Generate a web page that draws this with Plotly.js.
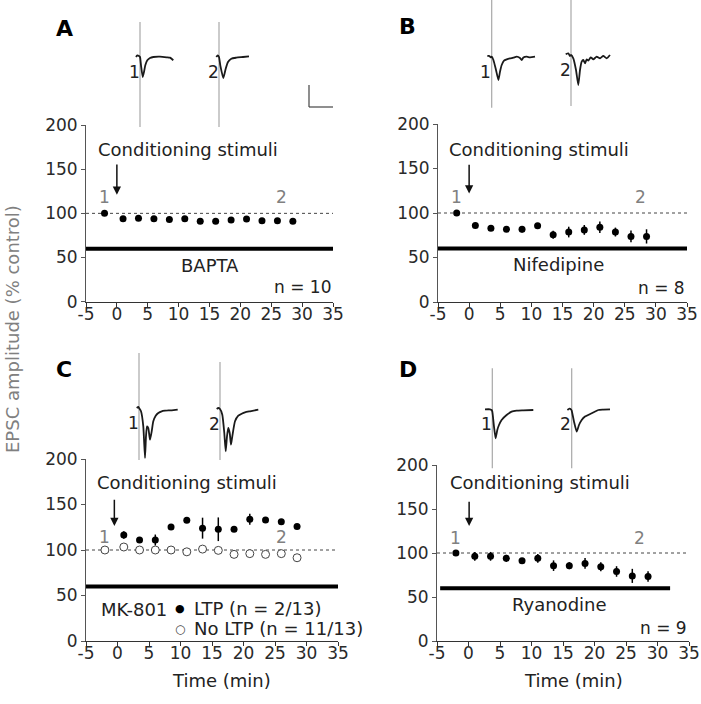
<!DOCTYPE html>
<html><head><meta charset="utf-8">
<script src="https://cdn.plot.ly/plotly-3.0.1.min.js"></script>
<style>html,body{margin:0;padding:0;background:#fff;}#chart{width:701px;height:704px;}</style>
</head><body><div id="chart"></div>
<script>
// ---------- data ----------
const timeMin = [-2, 1, 3.5, 6, 8.5, 11, 13.5, 16, 18.5, 21, 23.5, 26, 28.5];
const timeLTP = [1, 3.5, 6, 8.5, 11, 13.5, 16, 18.5, 21, 23.5, 26, 28.5];

const baptaAmp = [100, 94, 94.5, 94, 93, 94, 91, 91, 92.5, 93.5, 91.5, 91.5, 91];
const baptaErr = [0, 1.5, 1.5, 1.5, 1.5, 1.5, 2, 2, 1.5, 1.5, 1.5, 1.5, 1.5];
const nifeAmp = [100, 86, 83, 81.7, 81.7, 85.7, 75.6, 78.6, 81, 84, 78.6, 73.7, 73.7];
const nifeErr = [0, 2, 2, 2.5, 3.5, 3, 4.5, 6, 5.5, 6.5, 5, 6.5, 8];
const mkLTPAmp = [116.5, 111, 111, 125.4, 132.7, 124, 122.8, 122.8, 133.8, 133, 131, 125.7];
const mkLTPErr = [4, 2, 6, 2, 2, 11.5, 13, 2, 6, 2, 2, 2];
const mkNoLTPAmp = [100, 103.3, 100, 100, 100, 98, 101, 99.6, 95.2, 96, 95.2, 96, 91.5];
const mkNoLTPErr = [0, 1, 1, 1, 1, 1, 1, 1, 1, 1, 1, 1, 1];
const ryanAmp = [100, 96.2, 96.2, 93.9, 91.3, 93.9, 85.6, 85.6, 88.2, 84.4, 79, 74, 73.4];
const ryanErr = [0, 5, 5, 4, 2, 5, 6, 4, 6, 5, 6, 8, 6];

const controlLevel = [100, 100];
const controlSpan = [-5, 35];
const drugLevel = [60, 60];
const drugSpanA = [-5, 35];
const drugSpanB = [-5, 35];
const drugSpanC = [-5, 35];
const drugSpanD = [-4.5, 32];

const xTickVals = [-5, 0, 5, 10, 15, 20, 25, 30, 35];
const xTickText = ['-5', '0', '5', '10', '15', '20', '25', '30', '35'];
const yTickVals = [0, 50, 100, 150, 200];
const yTickText = ['0', '50', '100', '150', '200'];

// example EPSC traces (time rel. to stimulus, current; arbitrary units)
const wA1t = [-4, -2.7, -1, 0, 1, 2.7, 4, 5.3, 7.3, 10, 13.3, 20, 26.7, 30, 33.3];
const wA1v = [0, 1.7, 1, 0, -8.3, -20, -15, -8.3, -3.3, -1, 0, 0.3, -0.3, -0.7, -3.3];
const wA2t = [-2.7, -1.3, 0, 1.3, 4.3, 6.7, 9, 12.3, 17.3, 24, 30];
const wA2v = [0, 1.7, 0, -8.3, -21, -11.7, -5, -1.7, -0.7, 0, 0.7];
const wB1t = [-4.3, -2.3, -1, 0, 1.7, 4.3, 6.7, 8.3, 10, 12.3, 15, 18.3, 21.7, 25, 28.3, 30, 31.7, 35, 38.3, 43.3];
const wB1v = [0.7, 0.7, -0.7, 0, -3.3, -13.3, -23.3, -15, -8.3, -4, -2.7, -1.7, -1, 0, -1.3, -3.3, -0.7, 0, -0.7, 0];
const wB2t = [-5.3, -2.7, -1, 0, 2.3, 5, 7.3, 9, 10.7, 12.3, 14, 15.7, 17.3, 19.7, 22.3, 25.7, 29, 32.3, 35.7, 39];
const wB2v = [0.7, 1.7, -1, 0, -3.3, -15, -30, -15, -6.7, -5, -8.3, -4.3, -5.7, -2.3, -4.3, -1.7, -3.3, -1, -3.3, 0];
const wC1t = [-2.3, -0.7, 0, 2, 4.3, 6, 7, 8, 9.3, 11, 12.7, 14.3, 16.7, 19.3, 22.7, 26, 29.3, 32.7, 38.7];
const wC1v = [0, 1, 0, -3.3, -18.3, -50, -28.3, -18.3, -20, -31.7, -23.3, -13.3, -7.7, -5, -3.3, -2.7, -2.3, -2.3, -1.7];
const wC2t = [-3.3, -1.7, 0, 2.3, 4.3, 5.7, 7, 8.3, 9.7, 11, 12.3, 15, 18.3, 21.7, 25, 30, 38.3];
const wC2v = [0, 1, 0, -5.7, -24, -42.3, -27.3, -19, -24, -35.7, -27.3, -12.3, -6.7, -4.7, -3.3, -2.3, -0.7];
const wD1t = [-7.3, -2.3, -0.7, 0, 1.7, 3.3, 5, 6.7, 9.3, 14.3, 19.3, 24.3, 31, 41];
const wD1v = [0, 0, -0.7, -2.3, -17.3, -29, -20.7, -15.7, -10.7, -5.7, -2.3, -1.3, -1, -0.7];
const wD2t = [-4.3, -2.3, -0.7, 0, 2.3, 5, 7.3, 10, 13.3, 20, 26.7, 31.7, 38.3];
const wD2v = [-0.7, 0.7, 0, -1.3, -12.3, -22.3, -15.7, -10.7, -7.3, -4, -0.7, -0.3, 0];
// stimulus artifacts (top, bottom)
const artA = [35, -70];
const artB = [57, -51];
const artC1 = [55, -52];
const artC2 = [47, -51];
const artD = [41, -59];
const artT = [0, 0];

// ---------- layout helpers ----------
const W = 701, H = 704;
const FONT = '"DejaVu Sans", "Liberation Sans", Arial, sans-serif';
const px = p => p / W;
const py = p => 1 - p / H;

const boxes = {
  A: {l: 86, r: 333, t: 125, b: 301.7},
  B: {l: 438, r: 687, t: 124, b: 302},
  C: {l: 86, r: 338, t: 459, b: 641},
  D: {l: 437, r: 689, t: 465, b: 641}
};

function xAxis(b) {
  return {domain: [px(b.l), px(b.r)], range: [-5, 35], tickvals: xTickVals, ticktext: xTickText,
    ticks: 'outside', ticklen: 4, tickwidth: 1, tickcolor: '#333', showline: true, linecolor: '#333',
    linewidth: 1, showgrid: false, zeroline: false, fixedrange: true, ticklabelstandoff: -7,
    tickfont: {family: FONT, size: 17, color: '#2a2a2a'}};
}
function yAxis(b, anchor) {
  return {domain: [py(b.b), py(b.t)], range: [0, 200], tickvals: yTickVals, ticktext: yTickText,
    ticks: 'outside', ticklen: 4, tickwidth: 1, tickcolor: '#555', showline: true, linecolor: '#555',
    linewidth: 1, showgrid: false, zeroline: false, fixedrange: true, anchor: anchor,
    tickfont: {family: FONT, size: 17, color: '#2a2a2a'}};
}

const layout = {
  width: W, height: H, margin: {l: 0, r: 0, t: 0, b: 0},
  paper_bgcolor: '#fff', plot_bgcolor: 'rgba(0,0,0,0)',
  font: {family: FONT, color: '#222'},
  showlegend: false,
  xaxis: Object.assign(xAxis(boxes.A), {anchor: 'y'}),
  yaxis: yAxis(boxes.A, 'x'),
  xaxis2: Object.assign(xAxis(boxes.B), {anchor: 'y2'}),
  yaxis2: yAxis(boxes.B, 'x2'),
  xaxis3: Object.assign(xAxis(boxes.C), {anchor: 'y3'}),
  yaxis3: yAxis(boxes.C, 'x3'),
  xaxis4: Object.assign(xAxis(boxes.D), {anchor: 'y4'}),
  yaxis4: yAxis(boxes.D, 'x4'),
  annotations: [], shapes: []
};

const data = [];

// ---------- panels ----------
function panel(xa, ya, amp, err, span, drugName, drugX, drugY, nText, nY, lbl) {
  data.push({x: controlSpan, y: controlLevel, xaxis: xa, yaxis: ya, mode: 'lines',
    line: {color: '#444', width: 1, dash: 'dot'}, hoverinfo: 'skip'});
  data.push({x: span, y: drugLevel, xaxis: xa, yaxis: ya, mode: 'lines',
    line: {color: '#000', width: 4}, hoverinfo: 'skip'});
  if (amp) {
    data.push({x: timeMin, y: amp, xaxis: xa, yaxis: ya, mode: 'markers',
      marker: {color: '#000', size: 7},
      error_y: {type: 'data', array: err, visible: true, color: '#000', thickness: 1.5, width: 0}});
  }
  const xr = xa, yr = ya;
  const ann = layout.annotations;
  ann.push({xref: xr, yref: yr, x: lbl.csX, y: lbl.csY, text: 'Conditioning stimuli', showarrow: false,
    font: {family: FONT, size: 18, color: '#222'}});
  ann.push({xref: xr, yref: yr, x: lbl.arX, y: lbl.arTip, ax: lbl.arX, ay: lbl.arTop, axref: xr, ayref: yr,
    text: '', showarrow: true, arrowhead: 2, arrowsize: 1.1, arrowwidth: 1.5, arrowcolor: '#111'});
  ann.push({xref: xr, yref: yr, x: -2, y: lbl.oneY, text: '1', showarrow: false,
    font: {family: FONT, size: 17, color: '#808080'}});
  ann.push({xref: xr, yref: yr, x: lbl.twoX, y: lbl.oneY, text: '2', showarrow: false,
    font: {family: FONT, size: 17, color: '#808080'}});
  if (drugName) ann.push({xref: xr, yref: yr, x: drugX, y: drugY, text: drugName, showarrow: false,
    xanchor: lbl.drugAnchor || 'center', font: {family: FONT, size: 18, color: '#222'}});
  if (nText) ann.push({xref: xr, yref: yr, x: 35, y: nY, text: nText, showarrow: false, xanchor: 'right',
    font: {family: FONT, size: 17, color: '#222'}});
}

panel('x', 'y', baptaAmp, baptaErr, drugSpanA, 'BAPTA', 15.1, 40.8, 'n = 10', 17,
  {csX: 11.5, csY: 171.7, arX: 0, arTip: 121, arTop: 157, oneY: 118, twoX: 26.7});
panel('x2', 'y2', nifeAmp, nifeErr, drugSpanB, 'Nifedipine', 14.4, 42.7, 'n = 8', 15.4,
  {csX: 11.3, csY: 170.8, arX: 0, arTip: 122, arTop: 156, oneY: 117.6, twoX: 27.6});
panel('x3', 'y3', null, null, drugSpanC, 'MK-801', -2.9, 34.8, null, 0,
  {csX: 11, csY: 174, arX: -0.5, arTip: 126.4, arTop: 157, oneY: 114, twoX: 26.1, drugAnchor: 'left'});
panel('x4', 'y4', ryanAmp, ryanErr, drugSpanD, 'Ryanodine', 14.5, 42, 'n = 9', 14.4,
  {csX: 11.4, csY: 180, arX: 0.1, arTip: 130.7, arTop: 160, oneY: 116.7, twoX: 27.2});

// MK-801 groups
data.push({x: timeMin, y: mkNoLTPAmp, xaxis: 'x3', yaxis: 'y3', mode: 'markers', name: 'No LTP (n = 11/13)',
  marker: {color: '#fff', size: 8, line: {color: '#444', width: 1}},
  error_y: {type: 'data', array: mkNoLTPErr, visible: true, color: '#444', thickness: 1, width: 0}});
data.push({x: timeLTP, y: mkLTPAmp, xaxis: 'x3', yaxis: 'y3', mode: 'markers', name: 'LTP (n = 2/13)',
  marker: {color: '#000', size: 7},
  error_y: {type: 'data', array: mkLTPErr, visible: true, color: '#000', thickness: 1.5, width: 0}});
// key for MK-801 groups
layout.annotations.push({xref: 'x3', yref: 'y3', x: 9.9, y: 35.9, text: '●', showarrow: false,
  xanchor: 'center', yanchor: 'middle', font: {family: FONT, size: 11, color: '#000'}});
layout.annotations.push({xref: 'x3', yref: 'y3', x: 9.9, y: 13.2, text: '○', showarrow: false,
  xanchor: 'center', yanchor: 'middle', font: {family: FONT, size: 12, color: '#444'}});
layout.annotations.push({xref: 'x3', yref: 'y3', x: 11.9, y: 35.9, text: 'LTP (n = 2/13)', showarrow: false,
  xanchor: 'left', yanchor: 'middle', font: {family: FONT, size: 18, color: '#222'}});
layout.annotations.push({xref: 'x3', yref: 'y3', x: 11.9, y: 13.2, text: 'No LTP (n = 11/13)', showarrow: false,
  xanchor: 'left', yanchor: 'middle', font: {family: FONT, size: 18, color: '#222'}});

// ---------- example traces (insets) ----------
const insets = [
  {t: wA1t, v: wA1v, art: artA, ax: 140, ay: 57, lbl: '1'},
  {t: wA2t, v: wA2v, art: artA, ax: 219, ay: 57, lbl: '2'},
  {t: wB1t, v: wB1v, art: artB, ax: 491.7, ay: 56.7, lbl: '1'},
  {t: wB2t, v: wB2v, art: artB, ax: 571, ay: 55, lbl: '2'},
  {t: wC1t, v: wC1v, art: artC1, ax: 139, ay: 408, lbl: '1'},
  {t: wC2t, v: wC2v, art: artC2, ax: 220, ay: 409, lbl: '2'},
  {t: wD1t, v: wD1v, art: artD, ax: 492.3, ay: 409.3, lbl: '1'},
  {t: wD2t, v: wD2v, art: artD, ax: 571.7, ay: 409.3, lbl: '2'}
];
insets.forEach((s, i) => {
  const n = i + 5;
  const xa = 'x' + n, ya = 'y' + n;
  const L = s.ax - 14, R = s.ax + 48, T = Math.max(0, s.ay - 62), B = s.ay + 75;
  layout['xaxis' + n] = {domain: [px(L), px(R)], range: [L - s.ax, R - s.ax], visible: false, fixedrange: true, anchor: ya};
  layout['yaxis' + n] = {domain: [py(B), py(T)], range: [s.ay - B, s.ay - T], visible: false, fixedrange: true, anchor: xa};
  data.push({x: artT, y: s.art, xaxis: xa, yaxis: ya, mode: 'lines',
    line: {color: '#a8a8a8', width: 1.2}, hoverinfo: 'skip'});
  data.push({x: s.t, y: s.v, xaxis: xa, yaxis: ya, mode: 'lines',
    line: {color: '#1a1a1a', width: 1.8, shape: 'spline', smoothing: 0.5}, hoverinfo: 'skip'});
  layout.annotations.push({xref: xa, yref: ya, x: -6, y: -15, text: s.lbl, showarrow: false,
    font: {family: FONT, size: 17, color: '#222'}});
});

// scale bar (panel A)
layout.shapes.push({type: 'line', xref: 'paper', yref: 'paper', x0: px(309), x1: px(309), y0: py(85), y1: py(107), line: {color: '#444', width: 1.2}});
layout.shapes.push({type: 'line', xref: 'paper', yref: 'paper', x0: px(309), x1: px(333), y0: py(107), y1: py(107), line: {color: '#444', width: 1.2}});

// panel letters, axis titles
const paperAnn = (x, y, text, size, color, extra) => Object.assign({xref: 'paper', yref: 'paper', x: px(x), y: py(y),
  text: text, showarrow: false, xanchor: 'center', yanchor: 'middle', font: {family: FONT, size: size, color: color}}, extra || {});
[['A', 64.5, 29], ['B', 407, 26.5], ['C', 64, 370], ['D', 407.5, 370]].forEach(l => {
  layout.annotations.push(paperAnn(l[1], l[2], '<b>' + l[0] + '</b>', 22, '#000'));
});
layout.annotations.push(paperAnn(12, 329, 'EPSC amplitude (% control)', 18, '#808080', {textangle: -90}));
layout.annotations.push(paperAnn(221.7, 680, 'Time (min)', 18, '#222'));
layout.annotations.push(paperAnn(573.3, 680, 'Time (min)', 18, '#222'));

Plotly.newPlot('chart', data, layout, {displayModeBar: false, staticPlot: true});
</script>
</body></html>
